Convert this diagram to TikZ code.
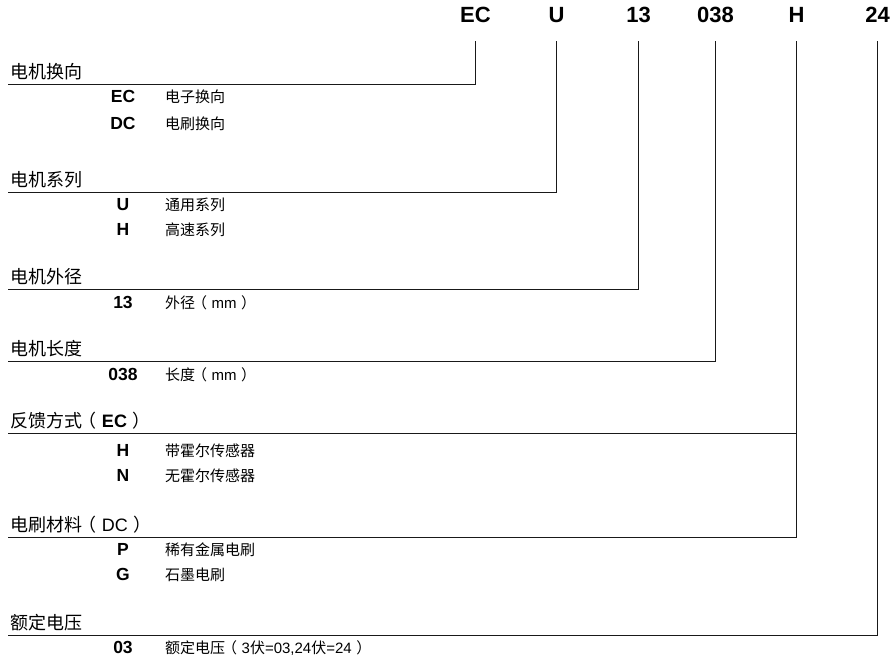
\documentclass[tikz,border=0pt]{standalone}
\usepackage{fontspec}
\setmainfont{Liberation Sans}
\newfontfamily\cjk{Noto Sans CJK SC}
\newcommand{\zh}[1]{{\cjk #1}}
\newcommand{\lp}{\zh{\kern-0.2em（}\kern0.3em}
\newcommand{\rp}{\kern0.3em\zh{）\kern-0.2em}}
\tikzstyle{code}=[font=\fontsize{22}{22}\selectfont\bfseries,
                  anchor=base,
                  inner sep=0pt]
\tikzstyle{hd}=[font=\fontsize{18}{18}\selectfont,
                anchor=base west,
                inner xsep=2pt,
                inner ysep=0pt]
\tikzstyle{key}=[font=\fontsize{17.5}{17.5}\selectfont\bfseries,
                 anchor=base,
                 inner sep=0pt]
\tikzstyle{desc}=[font=\fontsize{15}{15}\selectfont,
                  anchor=base west,
                  inner sep=0pt]
\tikzstyle{ln}=[draw=black!90,
                line width=1.6pt]
\tikzstyle{elbow}=[to path={-| (\tikztotarget)}]

\begin{document}
\begin{tikzpicture}[x=1pt,y=-1pt]
\useasboundingbox (0,0) rectangle (892,659);

% model code
\node[code] (cEC) at (475.5, 22) {EC};
\node[code] (cU) at (556.5, 22) {U};
\node[code] (c13) at (638.5, 22) {13};
\node[code] (c038) at (715.5, 22) {038};
\node[code] (cH) at (796.5, 22) {H};
\node[code] (c24) at (877.5, 22) {24};

% commutation
\node[hd] (h1) at (8, 78.5) {\zh{电机换向}};
\node[key] (k1) at (123, 102.5) {EC};
\node[desc] (d1) at (165, 102.5) {\zh{电子换向}};
\node[key] (k2) at (123, 129) {DC};
\node[desc] (d2) at (165, 129) {\zh{电刷换向}};

% series
\node[hd] (h2) at (8, 186.5) {\zh{电机系列}};
\node[key] (k3) at (123, 210) {U};
\node[desc] (d3) at (165, 210) {\zh{通用系列}};
\node[key] (k4) at (123, 235) {H};
\node[desc] (d4) at (165, 235) {\zh{高速系列}};

% diameter
\node[hd] (h3) at (8, 283.5) {\zh{电机外径}};
\node[key] (k5) at (123, 308) {13};
\node[desc] (d5) at (165, 308) {\zh{外径}\lp mm\rp};

% length
\node[hd] (h4) at (8, 355.5) {\zh{电机长度}};
\node[key] (k6) at (123, 380) {038};
\node[desc] (d6) at (165, 380) {\zh{长度}\lp mm\rp};

% feedback
\node[hd] (h5) at (8, 427.5) {\zh{反馈方式}\lp\textbf{EC}\rp};
\node[key] (k7) at (123, 456.5) {H};
\node[desc] (d7) at (165, 456.5) {\zh{带霍尔传感器}};
\node[key] (k8) at (123, 481) {N};
\node[desc] (d8) at (165, 481) {\zh{无霍尔传感器}};

% brushes
\node[hd] (h6) at (8, 531.5) {\zh{电刷材料}\lp DC\rp};
\node[key] (k9) at (123, 555.5) {P};
\node[desc] (d9) at (165, 555.5) {\zh{稀有金属电刷}};
\node[key] (k10) at (123, 580) {G};
\node[desc] (d10) at (165, 580) {\zh{石墨电刷}};

% voltage
\node[hd] (h7) at (8, 629.5) {\zh{额定电压}};
\node[key] (k11) at (123, 653) {03};
\node[desc] (d11) at (165, 653) {\zh{额定电压}\lp 3\zh{伏}=03,24\zh{伏}=24\rp};

% leader lines
\path[ln] ([yshift=-6pt]h1.base west) edge[elbow] ([yshift=-19pt]cEC.base)
          ([yshift=-6pt]h2.base west) edge[elbow] ([yshift=-19pt]cU.base)
          ([yshift=-6pt]h3.base west) edge[elbow] ([yshift=-19pt]c13.base)
          ([yshift=-6pt]h4.base west) edge[elbow] ([yshift=-19pt]c038.base)
          ([yshift=-6pt]h5.base west) edge[elbow] ([yshift=-19pt]cH.base)
          ([yshift=-6pt]h6.base west) edge[elbow] ([yshift=-19pt]cH.base)
          ([yshift=-6pt]h7.base west) edge[elbow] ([yshift=-19pt]c24.base);
\end{tikzpicture}
\end{document}
